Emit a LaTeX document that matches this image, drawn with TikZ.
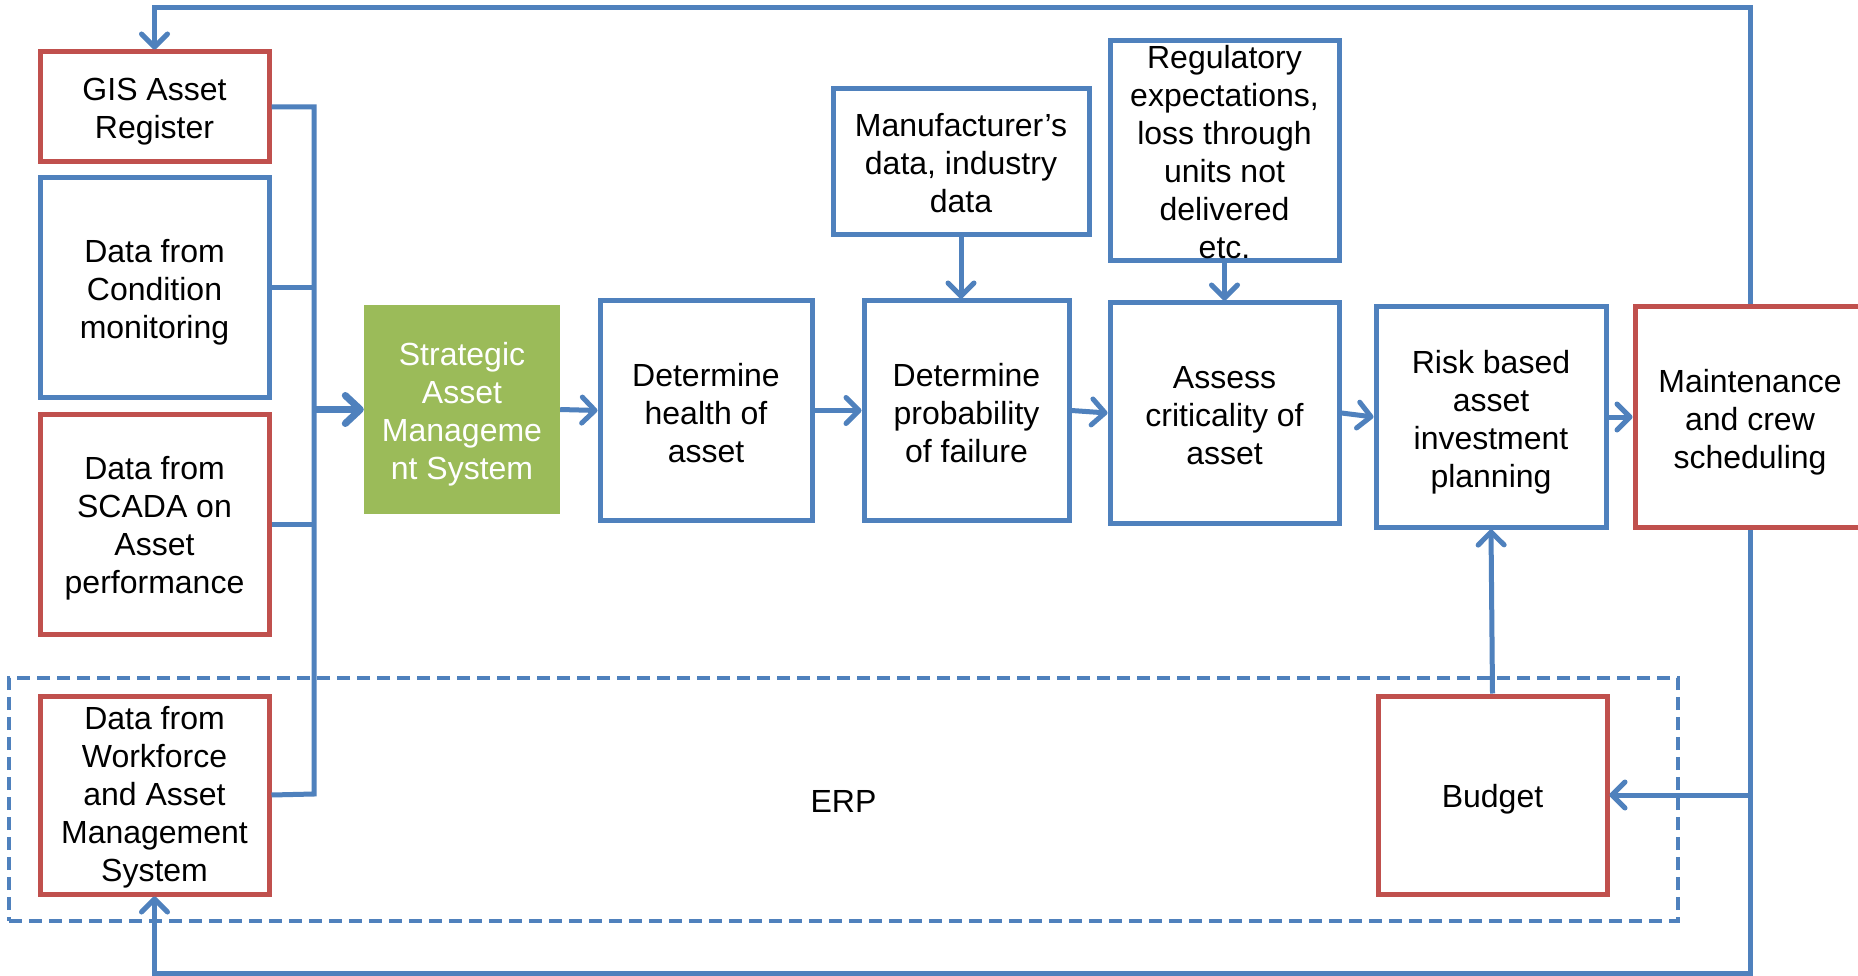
\documentclass[tikz,border=0pt]{standalone}
\usepackage{fontspec}
\setmainfont{Liberation Sans}
\usetikzlibrary{arrows.meta}
\definecolor{oblue}{HTML}{4F81BD}
\definecolor{ored}{HTML}{C0504D}
\definecolor{ogreen}{HTML}{9BBB59}
\begin{document}
\begin{tikzpicture}[x=1pt,y=-1pt,
  txt/.style={inner sep=0pt, align=center, font=\fontsize{32}{38}\selectfont},
  box/.style={draw, line width=5pt, inner sep=0pt},
  bluebox/.style={box, draw=oblue},
  redbox/.style={box, draw=ored},
  conn/.style={draw=oblue, line width=5pt},
  arr/.style={conn, -{Straight Barb[length=13pt,width=26pt,round]}},
  busarr/.style={draw=oblue, line width=7pt, -{Straight Barb[length=15pt,width=28pt,round]}}
]
\useasboundingbox (0,0) rectangle (1858,976);
\clip (0,0) rectangle (1858,976);
\fill[white] (0,0) rectangle (1858,976);

% ERP dashed region
\node[draw=oblue, line width=4.7pt, dash pattern=on 13pt off 7pt, minimum width=1669pt, minimum height=243pt, inner sep=0pt] (erp) at (843.5,799.5) {};
\node[txt, yshift=-1.5pt] (erplbl) at (erp.center) {ERP};

% left input boxes
\node[redbox, minimum width=229pt, minimum height=110pt] (gis) at (154.5,107) {};
\node[txt, yshift=-5pt] (gisT) at (gis.center) {GIS Asset\\Register};
\node[bluebox, minimum width=229pt, minimum height=219pt] (cond) at (154.5,287.5) {};
\node[txt, yshift=-5pt] (condT) at (cond.center) {Data from\\Condition\\monitoring};
\node[redbox, minimum width=229pt, minimum height=220pt] (scada) at (154.5,524) {};
\node[txt, yshift=-4pt] (scadaT) at (scada.center) {Data from\\SCADA on\\Asset\\performance};
\node[redbox, minimum width=229pt, minimum height=198pt] (work) at (154.5,795) {};
\node[txt, yshift=-2.5pt] (workT) at (work.center) {Data from\\Workforce\\and Asset\\Management\\System};

% main flow
\node[fill=ogreen, inner sep=0pt, minimum width=196pt, minimum height=209pt] (sams) at (462,409.5) {};
\node[txt, text=white, yshift=-5pt] (samsT) at (sams.center) {Strategic\\Asset\\Manageme\\nt System};
\node[bluebox, minimum width=212pt, minimum height=219pt] (health) at (706,410.5) {};
\node[txt, yshift=-2.5pt] (healthT) at (health.center) {Determine\\health of\\asset};
\node[bluebox, minimum width=205pt, minimum height=219pt] (prob) at (966.5,410.5) {};
\node[txt, yshift=-2.5pt] (probT) at (prob.center) {Determine\\probability\\of failure};
\node[bluebox, minimum width=256pt, minimum height=146pt] (manuf) at (961,162) {};
\node[txt, yshift=-1.5pt] (manufT) at (manuf.center) {Manufacturer’s\\data, industry\\data};
\node[bluebox, minimum width=229pt, minimum height=220pt] (reg) at (1224.5,151) {};
\node[txt, yshift=-1pt] (regT) at (reg.center) {Regulatory\\expectations,\\loss through\\units not\\delivered\\etc.};
\node[bluebox, minimum width=229pt, minimum height=220pt] (assess) at (1224.5,413) {};
\node[txt, yshift=-2.5pt] (assessT) at (assess.center) {Assess\\criticality of\\asset};
\node[bluebox, minimum width=230pt, minimum height=220pt] (risk) at (1491,417) {};
\node[txt, yshift=-5pt] (riskT) at (risk.center) {Risk based\\asset\\investment\\planning};
\node[redbox, minimum width=230pt, minimum height=220pt] (maint) at (1750,417) {};
\node[txt, yshift=-5pt] (maintT) at (maint.center) {Maintenance\\and crew\\scheduling};
\node[redbox, minimum width=229pt, minimum height=198pt] (budget) at (1492.5,795) {};
\node[txt, yshift=-4pt] (budgetT) at (budget.center) {Budget};

% bus
\coordinate (busT) at (314,108);
\coordinate (busB) at (314,794);
\draw[conn] (gis.east) -- (gis.east -| busT) -- (busB) -- (work.east);
\draw[conn] (cond.east) -- (cond.east -| busT);
\draw[conn] (scada.east) -- (scada.east -| busT);
\draw[busarr] (sams.west -| busT) -- (sams.west);

% flow arrows
\draw[arr] (sams.east) -- (health.west);
\draw[arr] (health.east) -- (prob.west);
\draw[arr] (prob.east) -- (assess.west);
\draw[arr] (assess.east) -- (risk.west);
\draw[arr] (risk.east) -- (maint.west);
\draw[arr] (manuf.south) -- (manuf.south |- prob.north);
\draw[arr] (reg.south) -- (assess.north);
\draw[arr] (budget.north) -- (risk.south);

% feedback loops
\coordinate (topR) at (1750,8);
\coordinate (topL) at (154.5,8);
\coordinate (botR) at (1750,973);
\coordinate (botL) at (154.5,973);
\draw[arr] (maint.north) -- (topR) -- (topL) -- (gis.north);
\draw[arr] (maint.south) -- (botR) -- (botL) -- (work.south);
\draw[arr] (maint.south |- budget.east) -- (budget.east);
\end{tikzpicture}
\end{document}
